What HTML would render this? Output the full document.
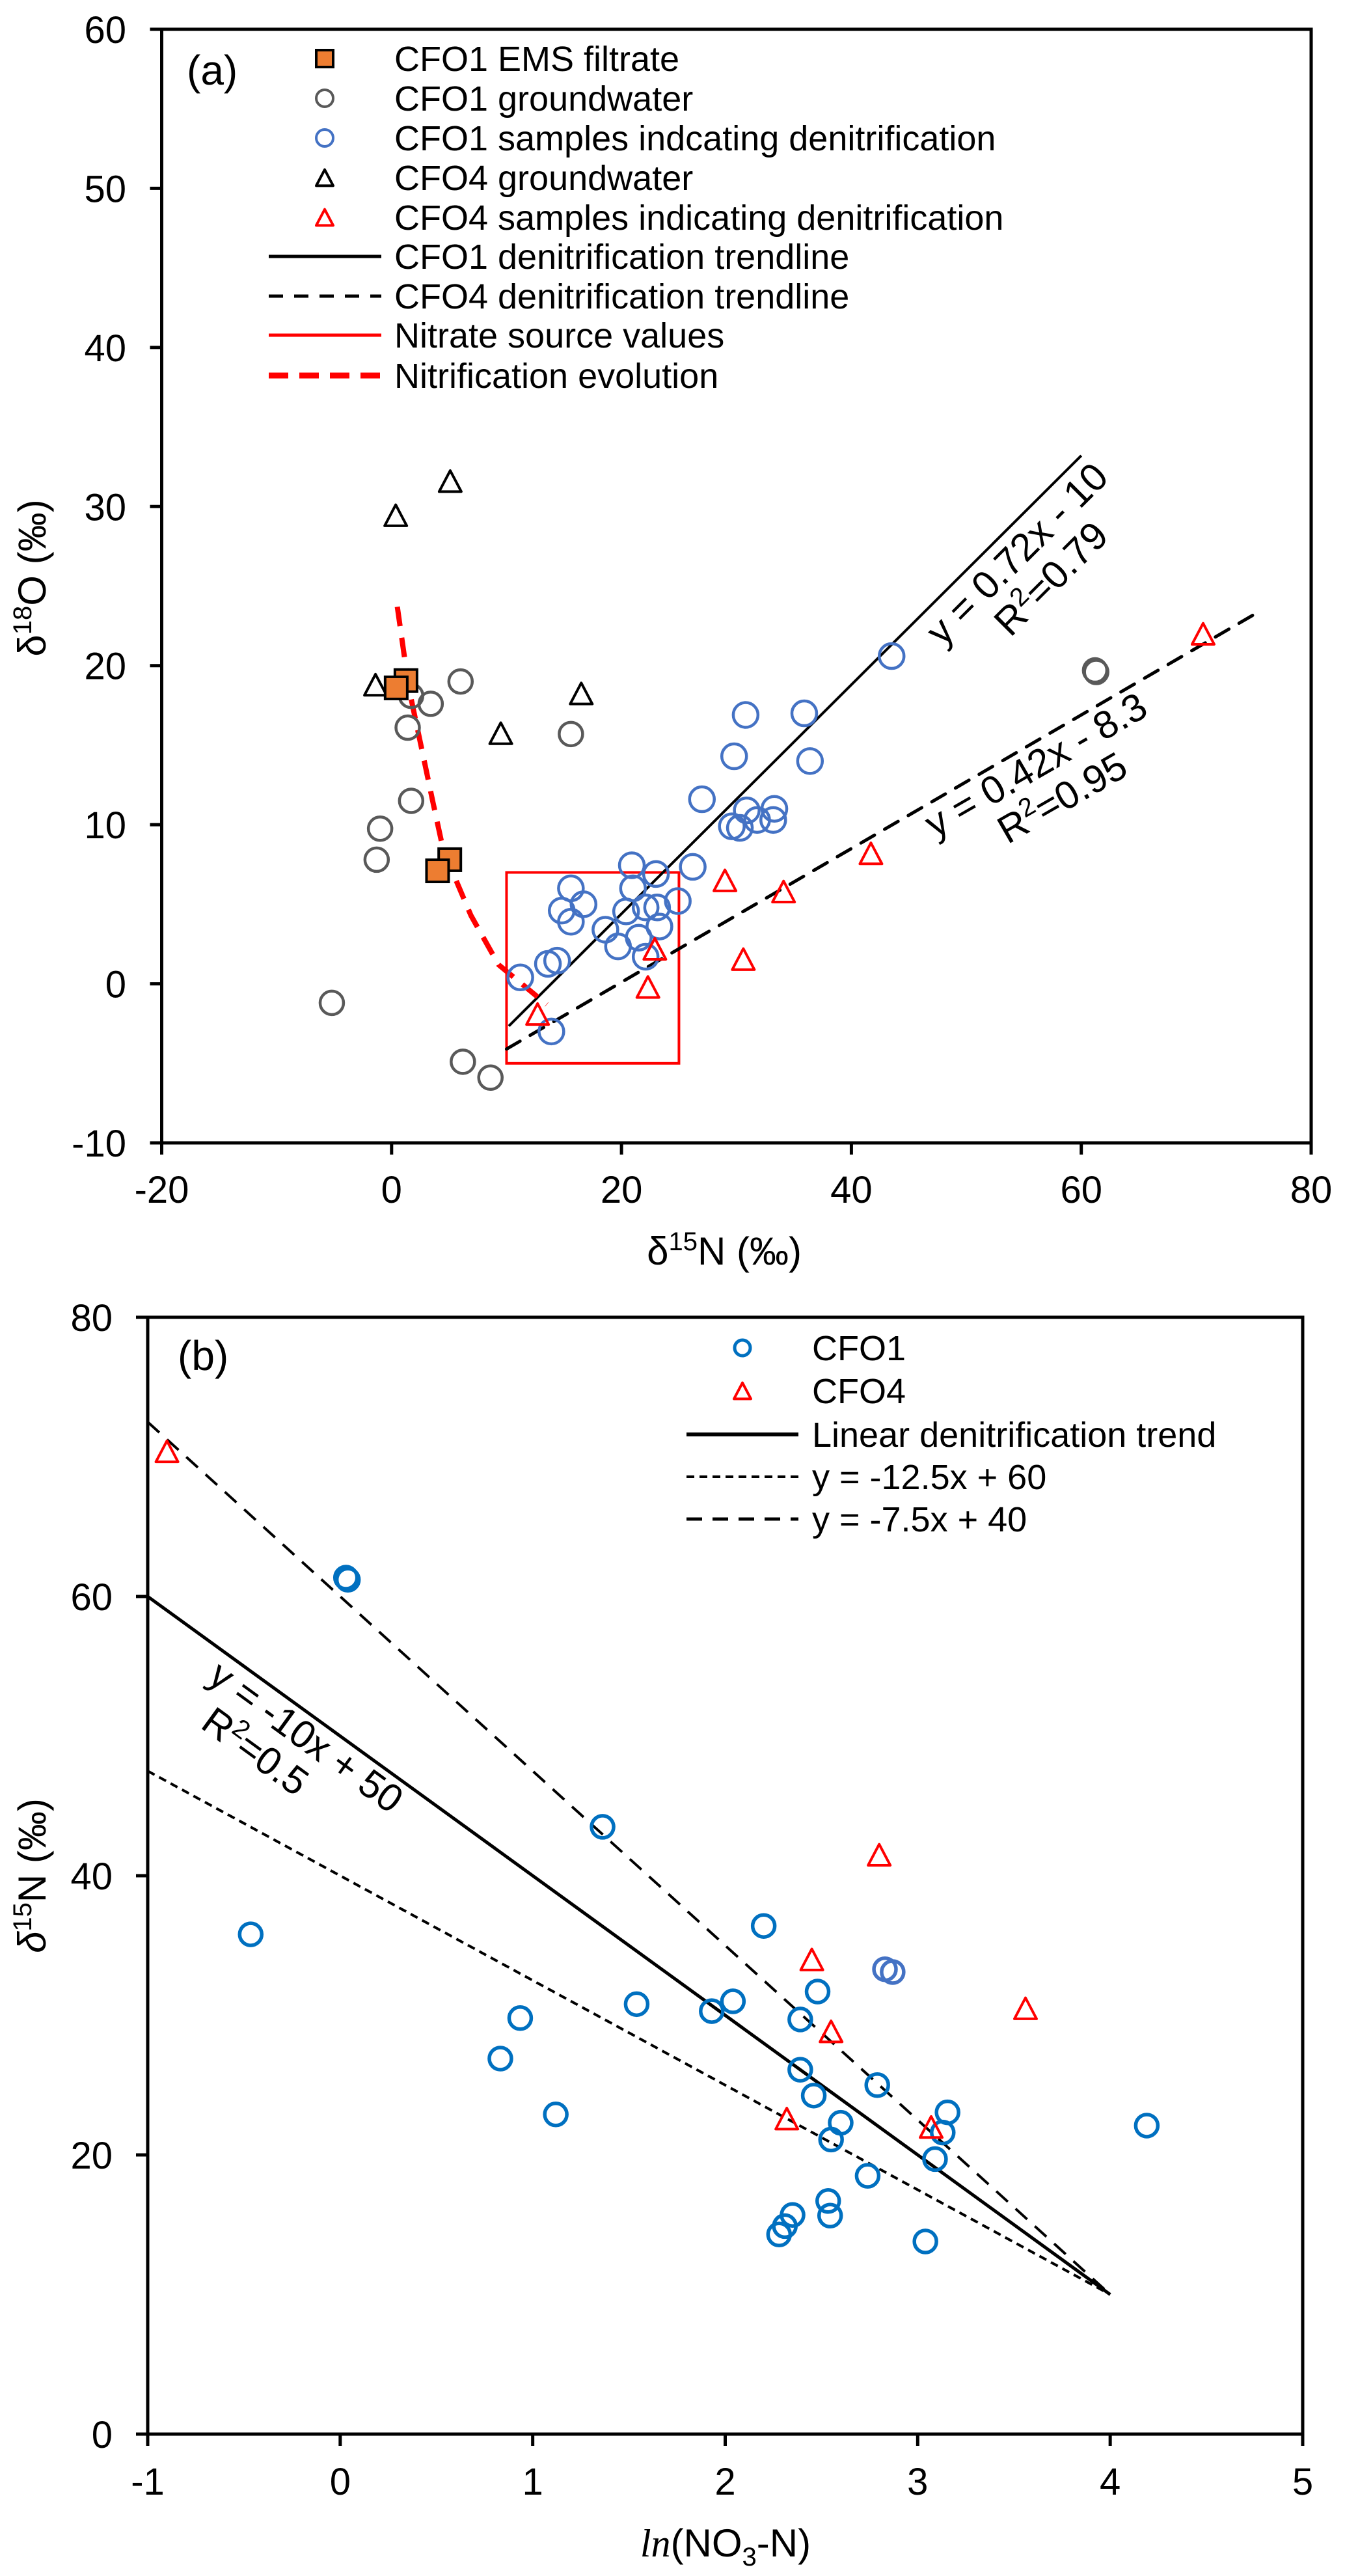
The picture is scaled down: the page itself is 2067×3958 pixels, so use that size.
<!DOCTYPE html>
<html><head><meta charset="utf-8"><style>
html,body{margin:0;padding:0;background:#fff;}
svg{display:block;}
text{font-family:"Liberation Sans",Arial,sans-serif;fill:#000;}
</style></head><body>
<svg id="fig" width="2067" height="3958" viewBox="0 0 2067 3958" xmlns="http://www.w3.org/2000/svg"></svg>
<script>
// ---------- Panel (a) data ----------
const emsX = [1.25, 0.4, 5.06, 4.0];
const emsY = [19.06, 18.6, 7.8, 7.1];
const gw1X = [6.0, 1.7, 3.4, 1.4, 15.6, 1.7, -1.0, -1.3, -5.2, 6.2, 8.6, 61.2, 61.3];
const gw1Y = [19.0, 18.1, 17.6, 16.1, 15.7, 11.5, 9.75, 7.8, -1.2, -4.9, -5.9, 19.7, 19.6];
const gw4X = [0.36, 5.1, -1.4, 9.5, 16.5];
const gw4Y = [29.45, 31.6, 18.8, 15.75, 18.25];
const den1X = [43.5,30.8,35.9,29.8,36.4,27.0,30.9,31.8,29.6,30.3,33.2,33.3,26.2,20.9,23.0,21.0,15.6,16.7,14.8,15.6,20.4,22.1,23.1,24.9,18.6,23.3,21.5,19.7,22.1,14.4,13.6,11.2,13.9];
const den1Y = [20.6,16.9,17.0,14.3,14.0,11.6,10.9,10.3,9.9,9.8,10.3,11.0,7.35,7.45,6.9,6.0,6.0,5.0,4.6,3.9,4.55,4.8,4.8,5.2,3.4,3.6,2.9,2.35,1.7,1.45,1.25,0.4,-3.0];
const den4X = [70.6, 41.7, 29.0, 34.1, 30.6, 22.9, 22.3, 12.7];
const den4Y = [22.0, 8.2, 6.5, 5.8, 1.55, 2.2, -0.2, -1.9];
const trend1 = {slope: 0.72, icpt: -10, x0: 10.2, x1: 60.0};
const trend4 = {slope: 0.42, icpt: -8.3, x0: 10.0, x1: 75.2};
const srcBox = [10, 25, -5, 7];
const nitX = [0.5, 1.5, 3.6, 4.5, 6.9, 9.3, 13.5];
const nitY = [23.7, 18.6, 11.4, 8.4, 4.3, 1.2, -1.3];
const aXTicks = [-20, 0, 20, 40, 60, 80];
const aYTicks = [-10, 0, 10, 20, 30, 40, 50, 60];

// ---------- Panel (b) data ----------
const bc1X = [0.03,0.04,-0.465,1.363,2.20,0.832,0.935,1.12,1.54,1.93,2.04,2.48,2.39,2.83,2.87,2.39,2.79,2.46,2.60,2.55,3.155,3.13,3.09,2.74,2.535,2.545,2.35,2.31,2.28,3.04,4.19];
const bc1Y = [61.35,61.2,35.8,43.5,36.4,26.9,29.8,22.9,30.8,30.3,31.0,31.7,29.7,33.3,33.1,26.1,25.0,24.25,22.3,21.1,23.05,21.6,19.7,18.5,16.7,15.65,15.7,14.9,14.3,13.8,22.1];
const bc4X = [-0.90, 2.80, 2.45, 2.55, 3.56, 2.32, 3.07];
const bc4Y = [70.4, 41.5, 34.0, 28.85, 30.5, 22.6, 22.0];
const bLines = [
  {slope: -10, icpt: 50, x0: -1, x1: 4},
  {slope: -12.5, icpt: 60, x0: -1, x1: 4},
  {slope: -7.5, icpt: 40, x0: -1, x1: 4}
];
const bXTicks = [-1, 0, 1, 2, 3, 4, 5];
const bYTicks = [0, 20, 40, 60, 80];

// ---------- axes ----------
const xa = v => 248.5 + (v + 20) * 17.665;
const ya = v => 45 + (60 - v) * 24.443;
const xb = v => 227 + (v + 1) * 295.83;
const yb = v => 3740 - v * 21.45;

const NS = "http://www.w3.org/2000/svg";
const svg = document.getElementById('fig');
function mk(tag, attrs, parent) {
  const e = document.createElementNS(NS, tag);
  for (const k in attrs) e.setAttribute(k, attrs[k]);
  (parent || svg).appendChild(e);
  return e;
}
function txt(str, attrs, parent) {
  const t = mk('text', attrs, parent);
  t.textContent = str;
  return t;
}
function circle(cx, cy, r, stroke, sw, g) {
  return mk('circle', {cx: cx, cy: cy, r: r, fill: 'none', stroke: stroke, 'stroke-width': sw}, g);
}
function tri(cx, cy, s, stroke, sw, g) {
  const h = s * 0.95;
  return mk('polygon', {points: `${cx},${cy - h/2} ${cx + s/2},${cy + h/2} ${cx - s/2},${cy + h/2}`, fill: 'none', stroke: stroke, 'stroke-width': sw, 'stroke-linejoin': 'round'}, g);
}
function square(cx, cy, s, g) {
  return mk('rect', {x: cx - s/2, y: cy - s/2, width: s, height: s, fill: '#ED7D31', stroke: '#000', 'stroke-width': 4}, g);
}

// ================= PANEL A =================
const ga = mk('g', {});



const frameA = mk('rect', {x: xa(-20), y: ya(60), width: xa(80) - xa(-20), height: ya(-10) - ya(60), fill: 'none', stroke: '#000', 'stroke-width': 5}, ga);



aXTicks.forEach(v => {
  const t = mk('line', {x1: xa(v), x2: xa(v), y1: ya(-10), y2: ya(-10) + 18, stroke: '#000', 'stroke-width': 5}, ga);
  
  
  const l = txt(String(v), {x: xa(v), y: 1848, 'font-size': 58, 'text-anchor': 'middle'}, ga);
  
  
});
aYTicks.forEach(v => {
  const t = mk('line', {x1: xa(-20) - 18, x2: xa(-20), y1: ya(v), y2: ya(v), stroke: '#000', 'stroke-width': 5}, ga);
  
  
  const l = txt(String(v), {x: 194, y: ya(v) + 21, 'font-size': 58, 'text-anchor': 'end'}, ga);
  
  
});

const xtA = mk('text', {x: 1113, y: 1943, 'font-size': 60, 'text-anchor': 'middle'}, ga);
xtA.innerHTML = 'δ<tspan dy="-22" font-size="40">15</tspan><tspan dy="22">N (‰)</tspan>';


const ytA = mk('text', {x: 0, y: 0, 'font-size': 60, 'text-anchor': 'middle', transform: 'translate(70,888) rotate(-90)'}, ga);
ytA.innerHTML = 'δ<tspan dy="-22" font-size="40">18</tspan><tspan dy="22">O (‰)</tspan>';



const labA = txt('(a)', {x: 287, y: 130, 'font-size': 64}, ga);



// source box
const box = mk('rect', {x: xa(srcBox[0]), y: ya(srcBox[3]), width: xa(srcBox[1]) - xa(srcBox[0]), height: ya(srcBox[2]) - ya(srcBox[3]), fill: 'none', stroke: '#FF0000', 'stroke-width': 4}, ga);



// trendlines
const t1 = mk('line', {x1: xa(trend1.x0), y1: ya(trend1.slope * trend1.x0 + trend1.icpt), x2: xa(trend1.x1), y2: ya(trend1.slope * trend1.x1 + trend1.icpt), stroke: '#000', 'stroke-width': 4}, ga);


const t4 = mk('line', {x1: xa(trend4.x0), y1: ya(trend4.slope * trend4.x0 + trend4.icpt), x2: xa(trend4.x1), y2: ya(trend4.slope * trend4.x1 + trend4.icpt), stroke: '#000', 'stroke-width': 5, 'stroke-dasharray': '24 18', 'stroke-linecap': 'round'}, ga);



// nitrification evolution curve
let d = '';
nitX.forEach((v, i) => { d += (i ? ' L' : 'M') + xa(v).toFixed(1) + ',' + ya(nitY[i]).toFixed(1); });
const nit = mk('path', {d: d, fill: 'none', stroke: '#FF0000', 'stroke-width': 8, 'stroke-dasharray': '30 18', 'stroke-linejoin': 'round'}, ga);



// points
gw1X.forEach((v, i) => {
  const c = circle(xa(v), ya(gw1Y[i]), 18, '#595959', 4.5, ga);
  
  
});
gw4X.forEach((v, i) => {
  const c = tri(xa(v), ya(gw4Y[i]), 34, '#000', 4, ga);
  
  
});
den1X.forEach((v, i) => {
  const c = circle(xa(v), ya(den1Y[i]), 19, '#4472C4', 4.5, ga);
  
  
});
den4X.forEach((v, i) => {
  const c = tri(xa(v), ya(den4Y[i]), 34, '#FF0000', 4, ga);
  
  
});
emsX.forEach((v, i) => {
  const c = square(xa(v), ya(emsY[i]), 34, ga);
  
  
});

// regression labels
const r1 = mk('g', {transform: 'translate(1583,871) rotate(-45)'}, ga);


txt('y = 0.72x - 10', {x: 0, y: -8, 'font-size': 60, 'text-anchor': 'middle'}, r1);
const r1b = mk('text', {x: 10, y: 56, 'font-size': 60, 'text-anchor': 'middle'}, r1);
r1b.innerHTML = 'R<tspan dy="-22" font-size="40">2</tspan><tspan dy="22">=0.79</tspan>';
const r4 = mk('g', {transform: 'translate(1606,1200) rotate(-30)'}, ga);


txt('y = 0.42x - 8.3', {x: 0, y: -8, 'font-size': 60, 'text-anchor': 'middle'}, r4);
const r4b = mk('text', {x: 10, y: 56, 'font-size': 60, 'text-anchor': 'middle'}, r4);
r4b.innerHTML = 'R<tspan dy="-22" font-size="40">2</tspan><tspan dy="22">=0.95</tspan>';

// legend a
const legA = mk('g', {}, ga);


const legAText = ['CFO1 EMS filtrate','CFO1 groundwater','CFO1 samples indcating denitrification','CFO4 groundwater','CFO4 samples indicating denitrification','CFO1 denitrification trendline','CFO4 denitrification trendline','Nitrate source values','Nitrification evolution'];
const legARows = [90, 151, 212, 273, 334, 394, 455, 515, 577];
legAText.forEach((s, i) => {
  const y = legARows[i];
  const row = mk('g', {}, legA);
  
  
  if (i === 0) square(499, y, 26, row);
  if (i === 1) circle(499, y, 13, '#595959', 4, row);
  if (i === 2) circle(499, y, 13, '#4472C4', 4, row);
  if (i === 3) tri(499, y, 26, '#000', 4, row);
  if (i === 4) tri(499, y, 26, '#FF0000', 4, row);
  if (i === 5) mk('line', {x1: 413, x2: 586, y1: y, y2: y, stroke: '#000', 'stroke-width': 5}, row);
  if (i === 6) mk('line', {x1: 413, x2: 586, y1: y, y2: y, stroke: '#000', 'stroke-width': 5, 'stroke-dasharray': '22 17'}, row);
  if (i === 7) mk('line', {x1: 413, x2: 586, y1: y, y2: y, stroke: '#FF0000', 'stroke-width': 5}, row);
  if (i === 8) mk('line', {x1: 413, x2: 586, y1: y, y2: y, stroke: '#FF0000', 'stroke-width': 9, 'stroke-dasharray': '30 17'}, row);
  txt(s, {x: 606, y: y + 19, 'font-size': 54}, row);
});

// ================= PANEL B =================
const gb = mk('g', {});



const frameB = mk('rect', {x: xb(-1), y: yb(80), width: xb(5) - xb(-1), height: yb(0) - yb(80), fill: 'none', stroke: '#000', 'stroke-width': 5}, gb);



bXTicks.forEach(v => {
  const t = mk('line', {x1: xb(v), x2: xb(v), y1: yb(0), y2: yb(0) + 18, stroke: '#000', 'stroke-width': 5}, gb);
  
  
  const l = txt(String(v), {x: xb(v), y: 3833, 'font-size': 58, 'text-anchor': 'middle'}, gb);
  
  
});
bYTicks.forEach(v => {
  const t = mk('line', {x1: xb(-1) - 18, x2: xb(-1), y1: yb(v), y2: yb(v), stroke: '#000', 'stroke-width': 5}, gb);
  
  
  const l = txt(String(v), {x: 173, y: yb(v) + 21, 'font-size': 58, 'text-anchor': 'end'}, gb);
  
  
});

const xtB = mk('text', {x: 1115, y: 3928, 'font-size': 60, 'text-anchor': 'middle'}, gb);
xtB.innerHTML = '<tspan font-family="Liberation Serif" font-style="italic">ln</tspan>(NO<tspan dy="14" font-size="40">3</tspan><tspan dy="-14">-N)</tspan>';


const ytB = mk('text', {x: 0, y: 0, 'font-size': 60, 'text-anchor': 'middle', transform: 'translate(70,2882) rotate(-90)'}, gb);
ytB.innerHTML = '<tspan font-style="italic">δ</tspan><tspan dy="-22" font-size="40">15</tspan><tspan dy="22">N (‰)</tspan>';



const labB = txt('(b)', {x: 273, y: 2105, 'font-size': 64}, gb);



// lines
const bStyles = [
  {w: 5, dash: null},
  {w: 4, dash: '24 16'},
  {w: 4, dash: '12 8'}
];
bLines.forEach((L, i) => {
  const a = {x1: xb(L.x0), y1: yb(L.slope * L.x0 + L.icpt), x2: xb(L.x1), y2: yb(L.slope * L.x1 + L.icpt), stroke: '#000', 'stroke-width': bStyles[i].w};
  if (bStyles[i].dash) a['stroke-dasharray'] = bStyles[i].dash;
  const l = mk('line', a, gb);
  
  
});

bc1X.forEach((v, i) => {
  const c = circle(xb(v), yb(bc1Y[i]), 17, (i === 13 || i === 14) ? '#4472C4' : '#0070C0', 5.5, gb);
  
  
});
bc4X.forEach((v, i) => {
  const c = tri(xb(v), yb(bc4Y[i]), 34, '#FF0000', 4, gb);
  
  
});

const rb = mk('g', {transform: 'translate(455,2690) rotate(36)'}, gb);


txt('y = -10x + 50', {x: 0, y: -6, 'font-size': 60, 'text-anchor': 'middle'}, rb);
const rbb = mk('text', {x: -50, y: 58, 'font-size': 60, 'text-anchor': 'middle'}, rb);
rbb.innerHTML = 'R<tspan dy="-22" font-size="40">2</tspan><tspan dy="22">=0.5</tspan>';

// legend b
const legB = mk('g', {}, gb);


const legBText = ['CFO1', 'CFO4', 'Linear denitrification trend', 'y = -12.5x + 60', 'y = -7.5x + 40'];
const legBRows = [2071, 2137, 2204, 2269, 2334];
legBText.forEach((s, i) => {
  const y = legBRows[i];
  const row = mk('g', {}, legB);
  
  
  if (i === 0) circle(1141, y, 12, '#0070C0', 5, row);
  if (i === 1) tri(1141, y, 26, '#FF0000', 4, row);
  if (i === 2) mk('line', {x1: 1055, x2: 1227, y1: y, y2: y, stroke: '#000', 'stroke-width': 6}, row);
  if (i === 3) mk('line', {x1: 1055, x2: 1227, y1: y, y2: y, stroke: '#000', 'stroke-width': 4, 'stroke-dasharray': '12 8'}, row);
  if (i === 4) mk('line', {x1: 1055, x2: 1227, y1: y, y2: y, stroke: '#000', 'stroke-width': 5, 'stroke-dasharray': '24 16'}, row);
  txt(s, {x: 1248, y: y + 19, 'font-size': 54}, row);
});
</script>
</body></html>
